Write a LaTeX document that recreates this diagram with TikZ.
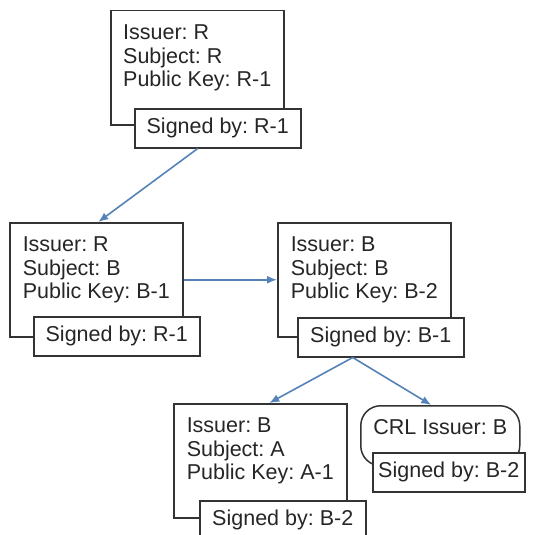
\documentclass[tikz,border=0pt]{standalone}
\usepackage{fontspec}
\setmainfont{Liberation Sans}
\usetikzlibrary{positioning,arrows.meta}
\definecolor{arrowblue}{RGB}{85,130,185}
\frenchspacing

\begin{document}
\begin{tikzpicture}
		[x=1pt,y=-1pt,
		font=\fontsize{21.5}{23.5}\selectfont,
		text=black!85,
		cert/.style ={rectangle, draw=black!80, line width=1.5pt, fill=white, minimum width=173pt, align=left, inner xsep=0pt, inner ysep=12pt, text height=64pt, text depth=26pt, anchor=north west},
		signed/.style ={rectangle, draw=black!80, line width=1.5pt, fill=white, minimum width=166pt, minimum height=39pt, inner sep=0pt, anchor=north west},
		crl/.style = {cert, rounded corners=20pt, minimum width=159pt, text height=17pt, text depth=19pt},
		line/.style ={color=arrowblue, line width=1.6pt, -{Latex[length=10pt,width=8pt]}},
		]
		\useasboundingbox (0,0) rectangle (534,535);
		\clip (0,0) rectangle (534,535);

		\draw (110,10) node[cert] (R1) {Issuer: R\\Subject: R\\Public Key: R-1};
		\draw (134,108) node[signed] (S1) {Signed by: R-1};
		\draw (9,222) node[cert] (M1) {Issuer: R\\Subject: B\\Public Key: B-1};
		\draw (33,316) node[signed] (S2) {Signed by: R-1};
		\draw (277,222) node[cert] (M2) {Issuer: B\\Subject: B\\Public Key: B-2};
		\draw (297,317) node[signed] (S3) {Signed by: B-1};
		\draw (173,403) node[cert] (B1) {Issuer: B\\Subject: A\\Public Key: A-1};
		\draw (199,500) node[signed] (S4) {Signed by: B-2};
		\draw (360,405) node[crl] (C1) {CRL Issuer: B};
		\draw (372,452) node[signed, minimum width=152pt] (S5) {Signed by: B-2};

		\path[line]
		([xshift=-20pt]S1.south) edge ([xshift=2pt]M1.north)
		(M1.east) edge (M2.west)
		([xshift=-28pt]S3.south) edge ([xshift=9pt]B1.north)
		([xshift=-28pt]S3.south) edge ([xshift=-9pt]C1.north);

	\end{tikzpicture}
\end{document}
